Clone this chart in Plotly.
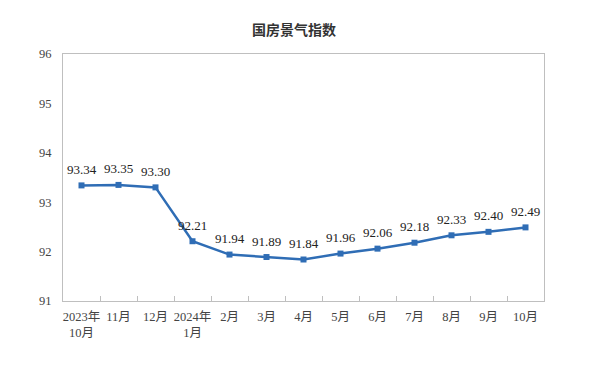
import plotly.graph_objects as go

categories = ["2023年<br>10月", "11月", "12月", "2024年<br>1月", "2月", "3月", "4月",
              "5月", "6月", "7月", "8月", "9月", "10月"]
values = [93.34, 93.35, 93.30, 92.21, 91.94, 91.89, 91.84, 91.96, 92.06, 92.18, 92.33, 92.40, 92.49]
y_ticks = [91, 92, 93, 94, 95, 96]

serif = "'Liberation Serif', 'Times New Roman', 'Noto Sans CJK SC', serif"
line_color = "#2F6DB5"

fig = go.Figure()
fig.add_trace(go.Scatter(
    x=categories, y=values,
    mode="lines+markers",
    line=dict(color=line_color, width=2.5),
    marker=dict(symbol="square", size=6, color=line_color),
    cliponaxis=False,
    hoverinfo="x+y",
))

for c, v in zip(categories, values):
    fig.add_annotation(
        x=c, y=v, text=f"{v:.2f}", showarrow=False,
        yanchor="middle", yshift=16,
        font=dict(family=serif, size=13, color="#222222"),
    )

fig.update_layout(
    width=612, height=374,
    margin=dict(l=63, r=68, t=54, b=73),
    paper_bgcolor="white", plot_bgcolor="white",
    showlegend=False,
    title=dict(text="<b>国房景气指数</b>", x=294/612, xanchor="center",
               y=1 - 30/374, yanchor="middle", xref="container", yref="container",
               font=dict(family="'Noto Sans CJK SC', sans-serif", size=14, color="#333333")),
)
fig.update_xaxes(
    type="category", automargin=False, range=[-0.5, len(categories) - 0.5],
    showline=True, linecolor="#BFBFBF", linewidth=1, mirror=True,
    ticks="inside", ticklen=5, tickcolor="#BFBFBF", tickson="boundaries",
    showgrid=False, tickangle=0, ticklabelstandoff=4,
    tickfont=dict(family=serif, size=12.5, color="#444444"),
)
fig.update_yaxes(
    range=[91, 96], tickvals=y_ticks, automargin=False,
    showline=True, linecolor="#BFBFBF", linewidth=1, mirror=True,
    ticks="", showgrid=False, zeroline=False,
    tickfont=dict(family=serif, size=12.5, color="#444444"),
    ticklabelstandoff=8,
)

fig.write_html("out.html", config={"displayModeBar": False},
               post_script="document.body.style.margin='0';document.body.style.overflow='hidden';")
